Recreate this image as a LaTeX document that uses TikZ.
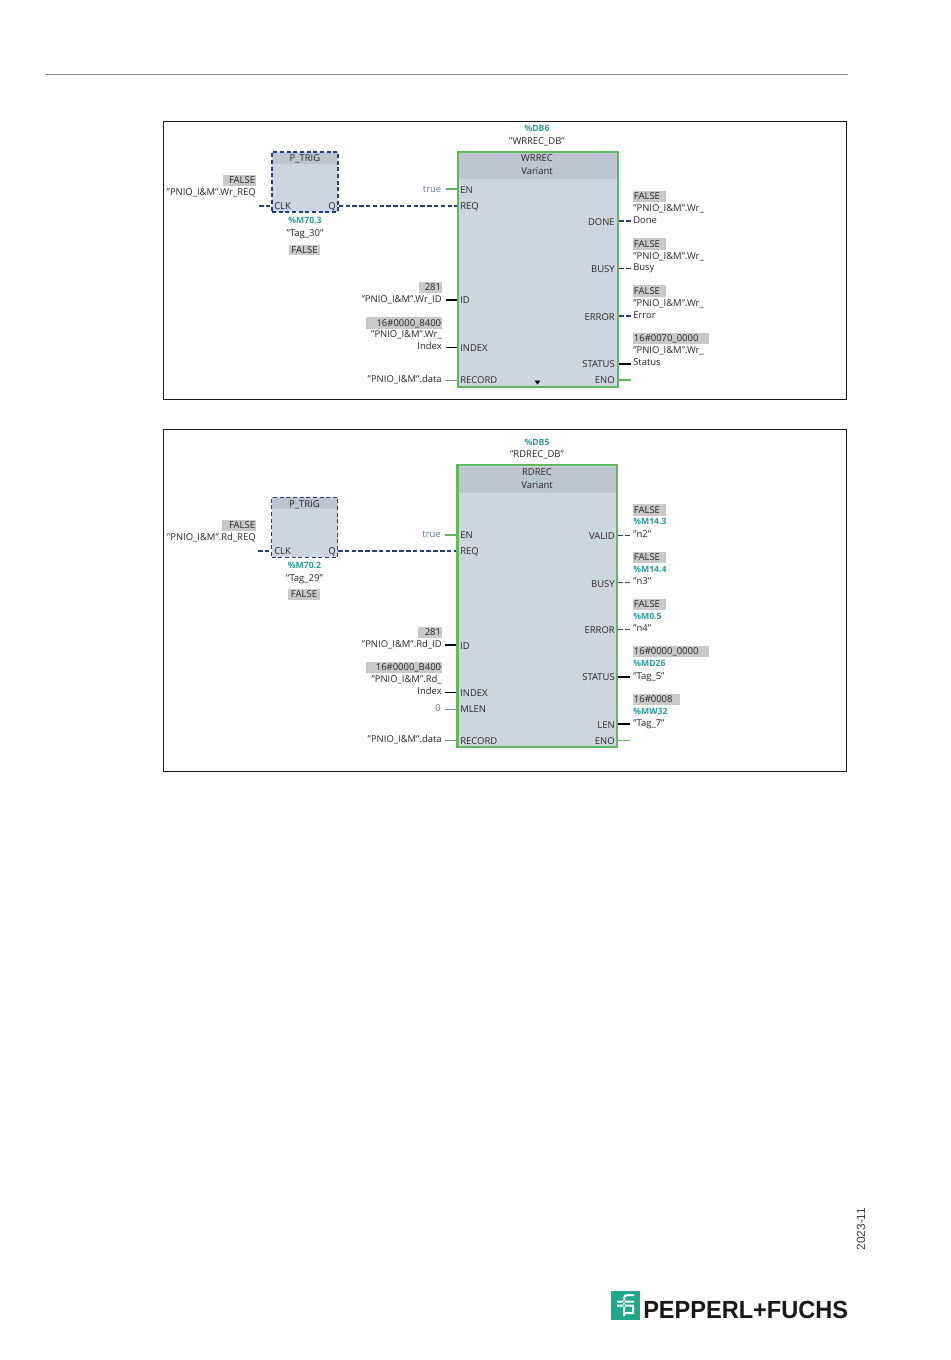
\documentclass[tikz,border=0pt]{standalone}
\usepackage{fontspec}
\setmainfont{Open Sans}
\newfontfamily\lib{Liberation Sans}
\usetikzlibrary{calc}
\definecolor{frameC}{HTML}{1A1A1A}
\definecolor{bodyC}{HTML}{CFD5E0}
\definecolor{headC}{HTML}{BEC4D0}
\definecolor{greenC}{HTML}{62B85F}
\definecolor{blueC}{HTML}{23407F}
\definecolor{tealC}{HTML}{2A9D9A}
\definecolor{grayB}{HTML}{C9C9C9}
\definecolor{logoC}{HTML}{1EA98C}
\tikzset{
 x=0.75pt,y=-0.75pt,
 txt/.style={inner sep=0pt,font=\fontsize{7.1}{8}\selectfont,text=black!85,text height=5.8pt,text depth=0.8pt},
 tl/.style={txt,anchor=west},
 tr/.style={txt,anchor=east},
 tc/.style={txt,anchor=center},
 addr/.style={font=\fontsize{6.5}{8}\selectfont\bfseries,text=tealC},
 valR/.style={txt,fill=grayB,minimum height=8.4pt,text width=#1*0.75pt-1pt,align=right,anchor=east,inner xsep=0.5pt},
 valL/.style={txt,fill=grayB,minimum height=8.4pt,text width=#1*0.75pt-1pt,align=left,anchor=west,inner xsep=0.5pt},
 panel/.style={draw=frameC,line width=0.6pt,fill=white,inner sep=0pt},
 fblock/.style={draw=greenC,line width=1.9pt,fill=bodyC,inner sep=0pt},
 trig/.style={draw=blueC,line width=1.1pt,densely dashed,fill=bodyC,inner sep=0pt},
 head/.style={fill=headC,inner sep=0pt},
 wBlack/.style={black,line width=1.4pt},
 wGreen/.style={greenC,line width=1.3pt},
 wGray/.style={black!45,line width=0.6pt},
 wDash/.style={blueC,line width=1pt,dash pattern=on 3.4pt off 1.7pt},
}
\begin{document}
\begin{tikzpicture}
\useasboundingbox (0,0) rectangle (950,1360);
\fill[white] (0,0) rectangle (950,1360);
\coordinate (ruleA) at (45,74);
\coordinate (ruleB) at (848,74);
\draw[black!45,line width=0.6pt] (ruleA) -- (ruleB);

% ---------- upper panel
\node[panel,minimum width=512.5pt,minimum height=208.5pt] (pan1) at (504.7,260.5) {};
\node[trig,minimum width=49.5pt,minimum height=45pt] (tr1) at (305,182) {};
\node[head,minimum width=48pt,minimum height=8.3pt] (tr1h) at (305,158.5) {};
\node[tc] (tr1t) at (305,158.5) {P\_TRIG};
\node[fblock,minimum width=120pt,minimum height=176.2pt] (b1) at (538,269.5) {};
\node[head,minimum width=118.4pt,minimum height=19.5pt] (b1h) at (538,166) {};
\node[tc] (b1t) at (537,158.5) {WRREC};
\node[tc] (b1v) at (537,171) {Variant};
\node[tc,addr] (db1) at (537,128.5) {\%DB6};
\node[tc] (db1n) at (537,141) {"WRREC\_DB"};
% left
\node[valR=33] (a1) at (256,180.5) {FALSE};
\node[tr] (a2) at (256,192.5) {"PNIO\_I\&M".Wr\_REQ};
\node[tc,addr] (a3) at (305,220.5) {\%M70.3};
\node[tc] (a4) at (305,233) {"Tag\_30"};
\node[tc,fill=grayB,minimum width=23.2pt,minimum height=7.8pt] (a5) at (304.5,250) {FALSE};
\node[tr,text=blueC!70] (a6) at (441.5,189) {true};
\node[valR=23] (a7) at (442,287.5) {281};
\node[tr] (a8) at (442,299.5) {"PNIO\_I\&M".Wr\_ID};
\node[valR=76] (a9) at (442,323) {16\#0000\_8400};
\node[tr] (a10) at (442,334.5) {"PNIO\_I\&M".Wr\_};
\node[tr] (a11) at (442,346.5) {Index};
\node[tr] (a12) at (442,379.5) {"PNIO\_I\&M".data};
% pins
\node[tl] (pClk1) at (274,206.5) {CLK};
\node[tr] (pQ1) at (336,206) {Q};
\node[tl] (pEn1) at (460,190) {EN};
\node[tl] (pReq1) at (460,206.5) {REQ};
\node[tl] (pId1) at (460,300.5) {ID};
\node[tl] (pIdx1) at (460,348.5) {INDEX};
\node[tl] (pRec1) at (460,380.5) {RECORD};
\node[tr] (pDone1) at (615,222.5) {DONE};
\node[tr] (pBusy1) at (615,269.5) {BUSY};
\node[tr] (pErr1) at (615,317) {ERROR};
\node[tr] (pSt1) at (615,364.5) {STATUS};
\node[tr] (pEno1) at (615,380.5) {ENO};
% right
\node[valL=33] (c1) at (633,196.5) {FALSE};
\node[tl] (c2) at (633,208.5) {"PNIO\_I\&M".Wr\_};
\node[tl] (c3) at (633,220) {Done};
\node[valL=33] (c4) at (633,244) {FALSE};
\node[tl] (c5) at (633,256) {"PNIO\_I\&M".Wr\_};
\node[tl] (c6) at (633,267) {Busy};
\node[valL=33] (c7) at (633,291) {FALSE};
\node[tl] (c8) at (633,303) {"PNIO\_I\&M".Wr\_};
\node[tl] (c9) at (633,315) {Error};
\node[valL=76] (c10) at (633,338.5) {16\#0070\_0000};
\node[tl] (c11) at (633,350.5) {"PNIO\_I\&M".Wr\_};
\node[tl] (c12) at (633,362) {Status};
\fill[black] (534.5,380.5) -- (540.5,380.5) -- (537.5,384.5) -- cycle;
% free wire ends
\coordinate (f1) at (259,206);
\coordinate (f2) at (446,189);
\coordinate (f3) at (446,300);
\coordinate (f4) at (446,347.5);
\coordinate (f5) at (446,380);
\coordinate (f6) at (631,221);
\coordinate (f7) at (631,268.5);
\coordinate (f8) at (631,316);
\coordinate (f9) at (631,364);
\coordinate (f10) at (631,380);
\draw[wDash] (f1) -- (f1 -| tr1.west);
\draw[wDash] (tr1.east |- f1) -- (f1 -| b1.west);
\draw[wGreen] (f2) -- (f2 -| b1.west);
\draw[wBlack] (f3) -- (f3 -| b1.west);
\draw[wBlack] (f4) -- (f4 -| b1.west);
\draw[wGray] (f5) -- (f5 -| b1.west);
\draw[wDash] (b1.east |- f6) -- (f6);
\draw[wDash] (b1.east |- f7) -- (f7);
\draw[wDash] (b1.east |- f8) -- (f8);
\draw[wBlack] (b1.east |- f9) -- (f9);
\draw[wGreen] (b1.east |- f10) -- (f10);

% ---------- lower panel
\node[panel,minimum width=512.5pt,minimum height=256.5pt] (pan2) at (504.7,600.5) {};
\node[trig,line width=0.8pt,minimum width=49.5pt,minimum height=45pt] (tr2) at (304.5,527.3) {};
\node[head,minimum width=48.4pt,minimum height=8.5pt] (tr2h) at (304.5,503.5) {};
\node[tc] (tr2t) at (304.5,504) {P\_TRIG};
\node[fblock,minimum width=119.7pt,minimum height=211.2pt] (b2) at (537.3,606) {};
\node[head,minimum width=118.2pt,minimum height=20pt] (b2h) at (537.3,480) {};
\node[tc] (b2t) at (537,472) {RDREC};
\node[tc] (b2v) at (537,485) {Variant};
\node[tc,addr] (db2) at (537,442) {\%DB5};
\node[tc] (db2n) at (537,454.5) {"RDREC\_DB"};
% left
\node[valR=34] (d1) at (256,525.5) {FALSE};
\node[tr] (d2) at (256,537) {"PNIO\_I\&M".Rd\_REQ};
\node[tc,addr] (d3) at (304.5,565.5) {\%M70.2};
\node[tc] (d4) at (304.5,578.5) {"Tag\_29"};
\node[tc,fill=grayB,minimum width=24pt,minimum height=8pt] (d5) at (304,594.5) {FALSE};
\node[tr,text=blueC!70] (d6) at (441,534.5) {true};
\node[valR=24] (d7) at (442,632.5) {281};
\node[tr] (d8) at (442,644.5) {"PNIO\_I\&M".Rd\_ID};
\node[valR=76] (d9) at (442,667.5) {16\#0000\_B400};
\node[tr] (d10) at (442,679.5) {"PNIO\_I\&M".Rd\_};
\node[tr] (d11) at (442,691) {Index};
\node[tr,text=black!55] (d12) at (441,708) {0};
\node[tr] (d13) at (442,739.5) {"PNIO\_I\&M".data};
% pins
\node[tl] (pClk2) at (274,551.5) {CLK};
\node[tr] (pQ2) at (336,551) {Q};
\node[tl] (pEn2) at (460,535.5) {EN};
\node[tl] (pReq2) at (460,551.5) {REQ};
\node[tl] (pId2) at (460,646) {ID};
\node[tl] (pIdx2) at (460,693.5) {INDEX};
\node[tl] (pMl2) at (460,709.5) {MLEN};
\node[tl] (pRec2) at (460,741) {RECORD};
\node[tr] (pVal2) at (615,536) {VALID};
\node[tr] (pBusy2) at (615,584) {BUSY};
\node[tr] (pErr2) at (615,630.5) {ERROR};
\node[tr] (pSt2) at (615,677.5) {STATUS};
\node[tr] (pLen2) at (615,725) {LEN};
\node[tr] (pEno2) at (615,741) {ENO};
% right
\node[valL=33] (e1) at (633,510) {FALSE};
\node[tl,addr] (e2) at (633,521.5) {\%M14.3};
\node[tl] (e3) at (633,534) {"n2"};
\node[valL=33] (e4) at (633,557.5) {FALSE};
\node[tl,addr] (e5) at (633,569) {\%M14.4};
\node[tl] (e6) at (633,581) {"n3"};
\node[valL=33] (e7) at (633,604.5) {FALSE};
\node[tl,addr] (e8) at (633,616) {\%M0.5};
\node[tl] (e9) at (633,628.5) {"n4"};
\node[valL=76] (e10) at (633,651.5) {16\#0000\_0000};
\node[tl,addr] (e11) at (633,663.5) {\%MD26};
\node[tl] (e12) at (633,676) {"Tag\_5"};
\node[valL=47] (e13) at (633,699.5) {16\#0008};
\node[tl,addr] (e14) at (633,711) {\%MW32};
\node[tl] (e15) at (633,723.5) {"Tag\_7"};
% free wire ends
\coordinate (g1) at (258,551);
\coordinate (g2) at (445,535);
\coordinate (g3) at (445,645);
\coordinate (g4) at (445,692.5);
\coordinate (g5) at (445,709);
\coordinate (g6) at (445,740.5);
\coordinate (g7) at (630,535.5);
\coordinate (g8) at (630,582.5);
\coordinate (g9) at (630,629.5);
\coordinate (g10) at (630,677);
\coordinate (g11) at (630,724);
\coordinate (g12) at (630,740.5);
\draw[wDash,line width=1.2pt] (g1) -- (g1 -| tr2.west);
\draw[wDash,line width=1.2pt] (tr2.east |- g1) -- (g1 -| b2.west);
\draw[wGreen] (g2) -- (g2 -| b2.west);
\draw[wBlack] (g3) -- (g3 -| b2.west);
\draw[wBlack] (g4) -- (g4 -| b2.west);
\draw[wGray] (g5) -- (g5 -| b2.west);
\draw[wGray] (g6) -- (g6 -| b2.west);
\draw[wDash] (b2.east |- g7) -- (g7);
\draw[wDash,line width=0.6pt,draw=black!70] (b2.east |- g8) -- (g8);
\draw[wDash,line width=0.6pt,draw=black!70] (b2.east |- g9) -- (g9);
\draw[wBlack] (b2.east |- g10) -- (g10);
\draw[wBlack] (b2.east |- g11) -- (g11);
\draw[wGreen] (b2.east |- g12) -- (g12);

% ---------- footer
\node[inner sep=0pt,rotate=90,font=\lib\fontsize{8.9}{10}\selectfont,text=black!75] (date) at (861,1229) {2023-11};
\fill[logoC] (611,1291) rectangle (640,1320);
\fill[white] (623,1316) rectangle (625,1298)
  (623,1298) .. controls (623,1295) and (625,1294) .. (628,1294) -- (634,1294) -- (634,1296) -- (628,1296) .. controls (626,1296) and (625,1297) .. (625,1298) -- cycle
  (617,1300.5) rectangle (634,1302.5)
  (617,1304.5) rectangle (634,1306.5)
  (632,1306.5) rectangle (634,1312)
  (625,1312) rectangle (634,1314);
\node[inner sep=0pt,anchor=west,xscale=0.95,font=\lib\bfseries\fontsize{18.6}{20}\selectfont,text=black!90] (brand) at (643,1310) {PEPPERL+FUCHS};
\end{tikzpicture}
\end{document}
